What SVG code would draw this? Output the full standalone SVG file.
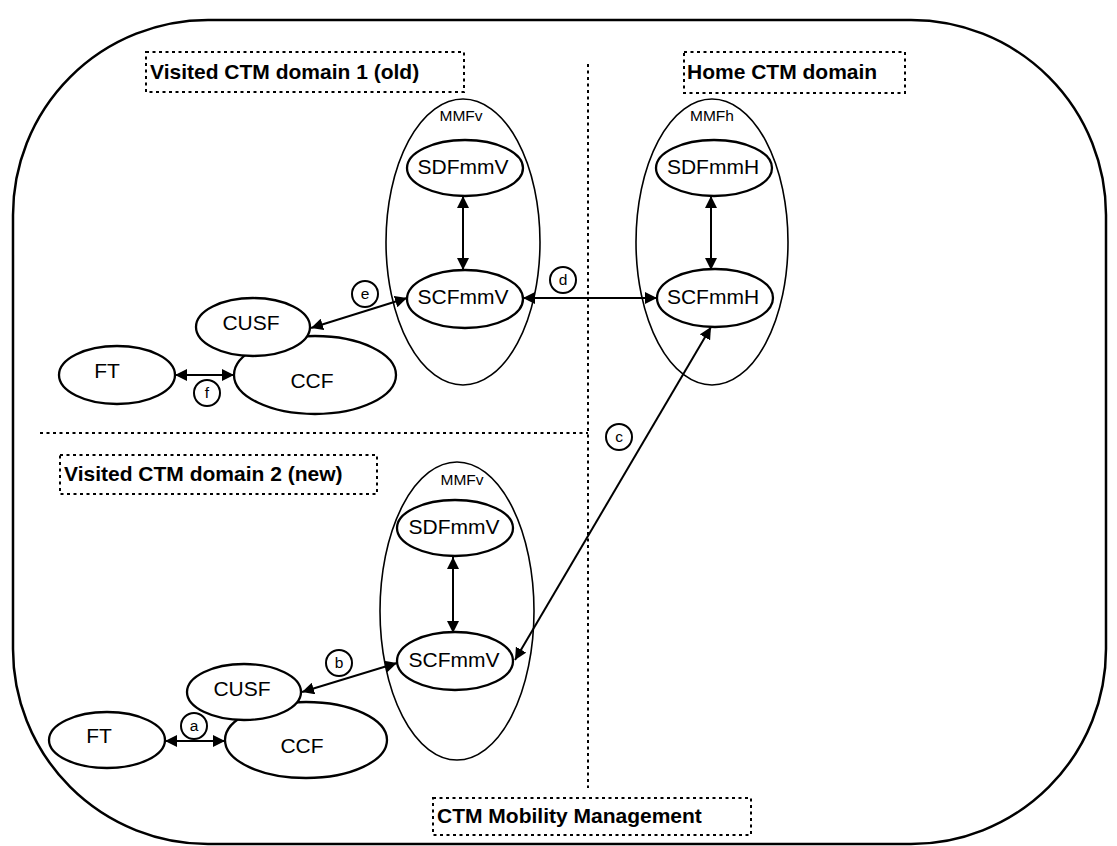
<svg xmlns="http://www.w3.org/2000/svg" width="1117" height="846" viewBox="0 0 1117 846">
  <defs>
    <marker id="arrow" viewBox="0 0 12 12" refX="12" refY="6" markerWidth="12" markerHeight="12" markerUnits="userSpaceOnUse" orient="auto-start-reverse">
      <path d="M0,0 L12,6 L0,12 z" fill="#000"/>
    </marker>
  </defs>
  <style>
    .frame { fill: none; stroke: #000; stroke-width: 2.5; }
    .divider { fill: none; stroke: #000; stroke-width: 2; stroke-dasharray: 3 3.5; }
    .tag rect { fill: none; stroke: #000; stroke-width: 2; stroke-dasharray: 3 3.5; }
    .tag text { font-family: "Liberation Sans", Arial, sans-serif; font-weight: bold; font-size: 21px; }
    .mmf ellipse { fill: none; stroke: #000; stroke-width: 1.6; }
    .mmf text { font-family: "Liberation Sans", Arial, sans-serif; font-size: 15.5px; text-anchor: middle; }
    .fn ellipse { fill: #fff; stroke: #000; stroke-width: 2.3; }
    .fn text { font-family: "Liberation Sans", Arial, sans-serif; font-size: 21px; text-anchor: middle; }
    .link { fill: none; stroke: #000; stroke-width: 2; marker-start: url(#arrow); marker-end: url(#arrow); }
    .ref circle { fill: #fff; stroke: #000; stroke-width: 2; }
    .ref text { font-family: "Liberation Sans", Arial, sans-serif; font-size: 15.5px; text-anchor: middle; }
  </style>

  <rect fill="#fff" x="0" y="0" width="1117" height="846"/>

  <!-- outer boundary -->
  <rect class="frame" x="13" y="20" width="1093" height="824" rx="195" ry="195"/>

  <!-- domain dividers -->
  <g id="dividers">
    <line class="divider" x1="588" y1="64" x2="588" y2="788"/>
    <line class="divider" x1="40" y1="433" x2="588" y2="433"/>
  </g>

  <!-- domain titles -->
  <g id="title-visited-1" class="tag">
    <rect x="146" y="52" width="318" height="40"/>
    <text x="150" y="79">Visited CTM domain 1 (old)</text>
  </g>
  <g id="title-home" class="tag">
    <rect x="684" y="52" width="221" height="41"/>
    <text x="687" y="79">Home CTM domain</text>
  </g>
  <g id="title-visited-2" class="tag">
    <rect x="60" y="455" width="317" height="39"/>
    <text x="64" y="481">Visited CTM domain 2 (new)</text>
  </g>
  <g id="title-mobility" class="tag">
    <rect x="433" y="798" width="318" height="37"/>
    <text x="437" y="823">CTM Mobility Management</text>
  </g>

  <!-- mobility management function containers -->
  <g id="mmfv-1" class="mmf">
    <ellipse cx="463" cy="242" rx="77" ry="143"/>
    <text x="461" y="121">MMFv</text>
  </g>
  <g id="mmfh" class="mmf">
    <ellipse cx="712" cy="242" rx="76" ry="143"/>
    <text x="712" y="121">MMFh</text>
  </g>
  <g id="mmfv-2" class="mmf">
    <ellipse cx="457" cy="611" rx="77" ry="149"/>
    <text x="462" y="485">MMFv</text>
  </g>

  <!-- connectors -->
  <g id="connectors">
    <line class="link" x1="463" y1="196" x2="463" y2="270"/>
    <line class="link" x1="711" y1="196" x2="711" y2="270"/>
    <line class="link" x1="453" y1="557" x2="453" y2="633"/>
    <line class="link" x1="311" y1="328" x2="407" y2="298"/>
    <line class="link" x1="175" y1="375" x2="234" y2="375"/>
    <line class="link" x1="523" y1="298" x2="657" y2="298"/>
    <line class="link" x1="515" y1="660" x2="711" y2="327"/>
    <line class="link" x1="302" y1="692" x2="397" y2="663"/>
    <line class="link" x1="165" y1="741" x2="225" y2="741"/>
  </g>

  <!-- visited domain 1 functions -->
  <g id="sdfmmv-1" class="fn">
    <ellipse cx="465" cy="168" rx="58" ry="28"/>
    <text x="463" y="174">SDFmmV</text>
  </g>
  <g id="scfmmv-1" class="fn">
    <ellipse cx="465" cy="299" rx="58" ry="29"/>
    <text x="463" y="304">SCFmmV</text>
  </g>
  <g id="ccf-1" class="fn">
    <ellipse cx="315" cy="375" rx="81" ry="39"/>
    <text x="312" y="388">CCF</text>
  </g>
  <g id="cusf-1" class="fn">
    <ellipse cx="253" cy="327" rx="57" ry="29"/>
    <text x="251" y="330">CUSF</text>
  </g>
  <g id="ft-1" class="fn">
    <ellipse cx="117" cy="375" rx="58" ry="29"/>
    <text x="107" y="378">FT</text>
  </g>

  <!-- home domain functions -->
  <g id="sdfmmh" class="fn">
    <ellipse cx="714" cy="168" rx="58" ry="28"/>
    <text x="713" y="174">SDFmmH</text>
  </g>
  <g id="scfmmh" class="fn">
    <ellipse cx="715" cy="298" rx="58" ry="29"/>
    <text x="713" y="304">SCFmmH</text>
  </g>

  <!-- visited domain 2 functions -->
  <g id="sdfmmv-2" class="fn">
    <ellipse cx="455" cy="528" rx="58" ry="28"/>
    <text x="454" y="534">SDFmmV</text>
  </g>
  <g id="scfmmv-2" class="fn">
    <ellipse cx="455" cy="661" rx="58" ry="29"/>
    <text x="454" y="667">SCFmmV</text>
  </g>
  <g id="ccf-2" class="fn">
    <ellipse cx="306" cy="740" rx="81" ry="38"/>
    <text x="302" y="753">CCF</text>
  </g>
  <g id="cusf-2" class="fn">
    <ellipse cx="244" cy="692" rx="57" ry="28"/>
    <text x="242" y="696">CUSF</text>
  </g>
  <g id="ft-2" class="fn">
    <ellipse cx="107" cy="740" rx="58" ry="28"/>
    <text x="99" y="743">FT</text>
  </g>

  <!-- reference point markers -->
  <g id="ref-a" class="ref"><circle cx="194" cy="726" r="13"/><text x="194" y="731">a</text></g>
  <g id="ref-b" class="ref"><circle cx="339" cy="663" r="13"/><text x="339" y="668">b</text></g>
  <g id="ref-c" class="ref"><circle cx="619" cy="437" r="13"/><text x="619" y="442">c</text></g>
  <g id="ref-d" class="ref"><circle cx="563" cy="280" r="13"/><text x="563" y="285">d</text></g>
  <g id="ref-e" class="ref"><circle cx="365" cy="294" r="13"/><text x="365" y="299">e</text></g>
  <g id="ref-f" class="ref"><circle cx="207" cy="393" r="13"/><text x="207" y="398">f</text></g>
</svg>
